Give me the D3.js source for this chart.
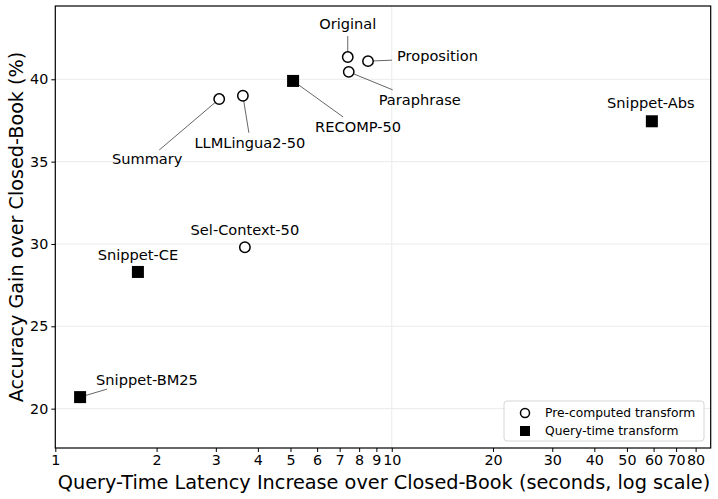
<!DOCTYPE html>
<html>
<head>
<meta charset="utf-8">
<script src="https://cdn.jsdelivr.net/npm/d3@7"></script>
<style>
  body { margin: 0; background: #fff; }
  text { font-family: "DejaVu Sans", sans-serif; fill: #000; }
</style>
</head>
<body>
<svg id="chart" width="718" height="499"></svg>
<script>
// data
const names = ["Original", "Proposition", "Paraphrase", "Summary", "LLMLingua2-50",
  "Sel-Context-50", "RECOMP-50", "Snippet-Abs", "Snippet-CE", "Snippet-BM25"];
const latency = [7.4, 8.5, 7.45, 3.07, 3.61, 3.66, 5.09, 59.3, 1.76, 1.185];
const gain = [41.35, 41.1, 40.45, 38.8, 39.0, 29.8, 39.9, 37.45, 28.3, 20.7];
const kinds = ["pre", "pre", "pre", "pre", "pre", "pre", "query", "query", "query", "query"];
const xTicks = [1, 2, 3, 4, 5, 6, 7, 8, 9, 10, 20, 30, 40, 50, 60, 70, 80];
const yTicks = [20, 25, 30, 35, 40];
const legendLabels = ["Pre-computed transform", "Query-time transform"];

// label placement (pixel offsets from the point): text centre, leader end, anchor
const labelLayout = {
  "Original":       { dx: 0,   dy: -33, lx: 0,   ly: -21, anchor: "middle" },
  "Proposition":    { dx: 29,  dy: -5,  lx: 24,  ly: -1,  anchor: "start" },
  "Paraphrase":     { dx: 71,  dy: 28,  lx: 44,  ly: 18,  anchor: "middle" },
  "Summary":        { dx: -72, dy: 60,  lx: -60, ly: 51,  anchor: "middle" },
  "LLMLingua2-50":  { dx: 7,   dy: 47,  lx: 6,   ly: 37,  anchor: "middle" },
  "Sel-Context-50": { dx: 0,   dy: -17, lx: null },
  "RECOMP-50":      { dx: 65,  dy: 46,  lx: 50,  ly: 36,  anchor: "middle" },
  "Snippet-Abs":    { dx: -1,  dy: -18, lx: null },
  "Snippet-CE":     { dx: 0,   dy: -17, lx: null },
  "Snippet-BM25":   { dx: 16,  dy: -17, lx: 27,  ly: -8,  anchor: "start" }
};

const svg = d3.select("#chart");
const mLeft = 55.3, mRight = 710.7, mTop = 6, mBottom = 448;

const x = d3.scaleLog().domain([1, 88.7]).range([mLeft, mRight]);
const y = d3.scaleLinear().domain([17.61, 44.45]).range([mBottom, mTop]);

// grid
svg.append("g").selectAll("line").data(yTicks).join("line")
  .attr("x1", mLeft).attr("x2", mRight)
  .attr("y1", d => y(d)).attr("y2", d => y(d))
  .attr("stroke", "#ebebeb").attr("stroke-width", 1);
svg.append("line")
  .attr("x1", x(10)).attr("x2", x(10)).attr("y1", mTop).attr("y2", mBottom)
  .attr("stroke", "#ebebeb").attr("stroke-width", 1);

// axes
const xAxis = d3.axisBottom(x).tickValues(xTicks).tickFormat(d3.format("d")).tickSizeOuter(0).tickSize(4).tickPadding(3);
const gx = svg.append("g").attr("transform", `translate(0,${mBottom})`).call(xAxis);
gx.selectAll("text").attr("font-size", 14.3).attr("font-family", "DejaVu Sans");
gx.select(".domain").remove();

const yAxis = d3.axisLeft(y).tickValues(yTicks).tickSizeOuter(0).tickSize(4).tickPadding(3);
const gy = svg.append("g").attr("transform", `translate(${mLeft},0)`).call(yAxis);
gy.selectAll("text").attr("font-size", 14.3).attr("font-family", "DejaVu Sans");
gy.select(".domain").remove();

svg.append("rect")
  .attr("x", mLeft).attr("y", mTop).attr("width", mRight - mLeft).attr("height", mBottom - mTop)
  .attr("fill", "none").attr("stroke", "#000").attr("stroke-width", 1.2);

// axis titles
svg.append("text")
  .attr("x", 384).attr("y", 489)
  .attr("text-anchor", "middle").attr("font-size", 19.3)
  .text("Query-Time Latency Increase over Closed-Book (seconds, log scale)");
svg.append("text")
  .attr("transform", `translate(23,${(mTop + mBottom) / 2}) rotate(-90)`)
  .attr("text-anchor", "middle").attr("font-size", 19.2)
  .text("Accuracy Gain over Closed-Book (%)");

const pts = names.map((n, i) => ({ name: n, lat: latency[i], gain: gain[i], kind: kinds[i] }));

// leader lines
svg.append("g").selectAll("line").data(pts.filter(d => labelLayout[d.name].lx !== null)).join("line")
  .attr("x1", d => x(d.lat)).attr("y1", d => y(d.gain))
  .attr("x2", d => x(d.lat) + labelLayout[d.name].lx)
  .attr("y2", d => y(d.gain) + labelLayout[d.name].ly)
  .attr("stroke", "#666").attr("stroke-width", 1);

// markers
const g = svg.append("g");
g.selectAll("circle").data(pts.filter(d => d.kind === "pre")).join("circle")
  .attr("cx", d => x(d.lat)).attr("cy", d => y(d.gain)).attr("r", 5.2)
  .attr("fill", "#fff").attr("stroke", "#000").attr("stroke-width", 1.5);
g.selectAll("rect").data(pts.filter(d => d.kind === "query")).join("rect")
  .attr("x", d => x(d.lat) - 6).attr("y", d => y(d.gain) - 6)
  .attr("width", 12).attr("height", 12).attr("fill", "#000");

// labels
svg.append("g").selectAll("text").data(pts).join("text")
  .attr("x", d => x(d.lat) + labelLayout[d.name].dx)
  .attr("y", d => y(d.gain) + labelLayout[d.name].dy)
  .attr("dy", "0.35em")
  .attr("text-anchor", d => labelLayout[d.name].anchor || "middle")
  .attr("font-size", 14.6)
  .text(d => d.name);

// legend
const lg = svg.append("g").attr("transform", "translate(504,401)");
lg.append("rect").attr("width", 200).attr("height", 40).attr("rx", 3)
  .attr("fill", "#fff").attr("fill-opacity", 0.8).attr("stroke", "#d6d6d6");
lg.append("circle").attr("cx", 21).attr("cy", 12).attr("r", 4.5)
  .attr("fill", "#fff").attr("stroke", "#000").attr("stroke-width", 1.5);
lg.append("rect").attr("x", 16).attr("y", 25).attr("width", 10).attr("height", 10).attr("fill", "#000");
lg.selectAll("text.lab").data(legendLabels).join("text")
  .attr("x", 41).attr("y", (d, i) => 12 + i * 18).attr("dy", "0.35em")
  .attr("font-size", 12.3).text(d => d);
</script>
</body>
</html>
